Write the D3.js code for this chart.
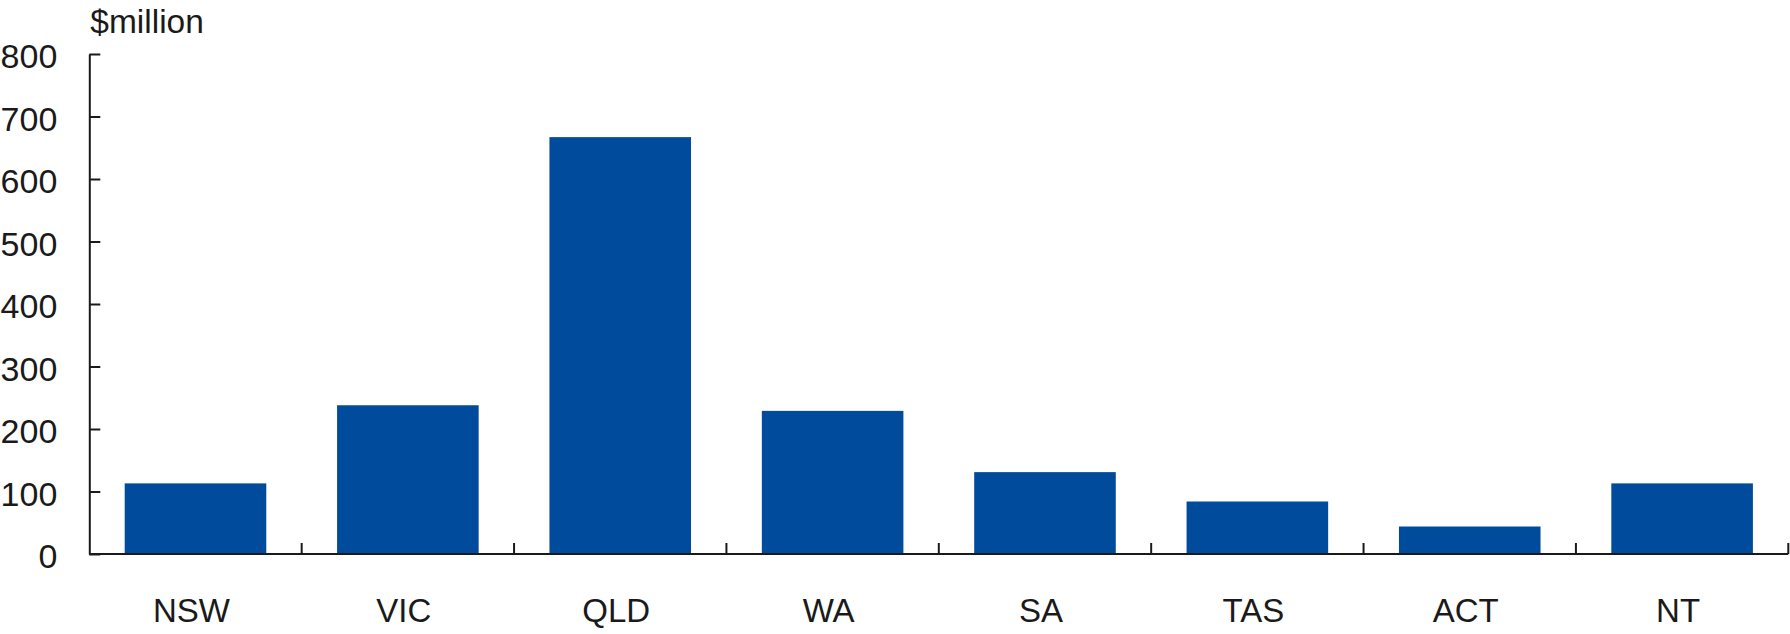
<!DOCTYPE html>
<html>
<head>
<meta charset="utf-8">
<script src="https://cdn.jsdelivr.net/npm/d3@7"></script>
<style>
  html, body { margin: 0; padding: 0; background: #fff; }
  svg { display: block; }
  text { font-family: "Liberation Sans", Arial, Helvetica, sans-serif; fill: #1a1a1a; }
</style>
</head>
<body>
<svg id="chart" width="1790" height="634"></svg>
<script>
const categories = ["NSW", "VIC", "QLD", "WA", "SA", "TAS", "ACT", "NT"];
const values = [113, 238, 667, 229, 131, 84, 44, 113];
const yTicks = [0, 100, 200, 300, 400, 500, 600, 700, 800];
const unitLabel = "$million";

const W = 1790, H = 634;
const margin = { left: 89.3, right: 1.7, top: 54, bottom: 80 };
const svg = d3.select("#chart");

const x = d3.scaleBand()
  .domain(categories)
  .range([margin.left, W - margin.right])
  .paddingInner(1 / 3)
  .paddingOuter(1 / 6);

const y = d3.scaleLinear()
  .domain([0, 800])
  .range([H - margin.bottom, margin.top]);

// bars
svg.append("g")
  .selectAll("rect")
  .data(categories)
  .join("rect")
  .attr("x", d => x(d))
  .attr("width", x.bandwidth())
  .attr("y", (d, i) => y(values[i]))
  .attr("height", (d, i) => y(0) - y(values[i]))
  .attr("fill", "#004b9b");

// y axis
const yAxis = svg.append("g")
  .attr("transform", `translate(${margin.left},0)`)
  .call(d3.axisLeft(y).tickValues(yTicks).tickSize(-11).tickSizeOuter(0).tickPadding(32));
yAxis.select(".domain").attr("stroke", "#1a1a1a").attr("stroke-width", 2);
yAxis.selectAll(".tick line").attr("stroke", "#1a1a1a").attr("stroke-width", 2);
yAxis.selectAll(".tick text")
  .attr("font-size", 34)
  .attr("dy", "0.4em")
  .style("font-family", "'Liberation Sans', Arial, sans-serif")
  .attr("fill", "#1a1a1a");

// x axis labels
const xAxis = svg.append("g")
  .attr("transform", `translate(0,${y(0)})`)
  .call(d3.axisBottom(x).tickSize(0).tickSizeOuter(0).tickPadding(45));
xAxis.select(".domain").attr("stroke", "#1a1a1a").attr("stroke-width", 2)
  .attr("d", `M${margin.left},0H${W - margin.right}`);
xAxis.selectAll(".tick text")
  .attr("font-size", 33)
  .attr("dx", -4)
  .style("font-family", "'Liberation Sans', Arial, sans-serif")
  .attr("fill", "#1a1a1a");

// category boundary ticks (pointing up)
const step = x.step();
const boundaries = d3.range(1, categories.length + 1).map(i => x.range()[0] + i * step);
svg.append("g")
  .selectAll("line")
  .data(boundaries)
  .join("line")
  .attr("x1", d => d).attr("x2", d => d)
  .attr("y1", y(0)).attr("y2", y(0) - 11)
  .attr("stroke", "#1a1a1a")
  .attr("stroke-width", 2);

// unit label
svg.append("text")
  .attr("x", margin.left + 1)
  .attr("y", 33)
  .attr("font-size", 33.5)
  .text(unitLabel);
</script>
</body>
</html>
